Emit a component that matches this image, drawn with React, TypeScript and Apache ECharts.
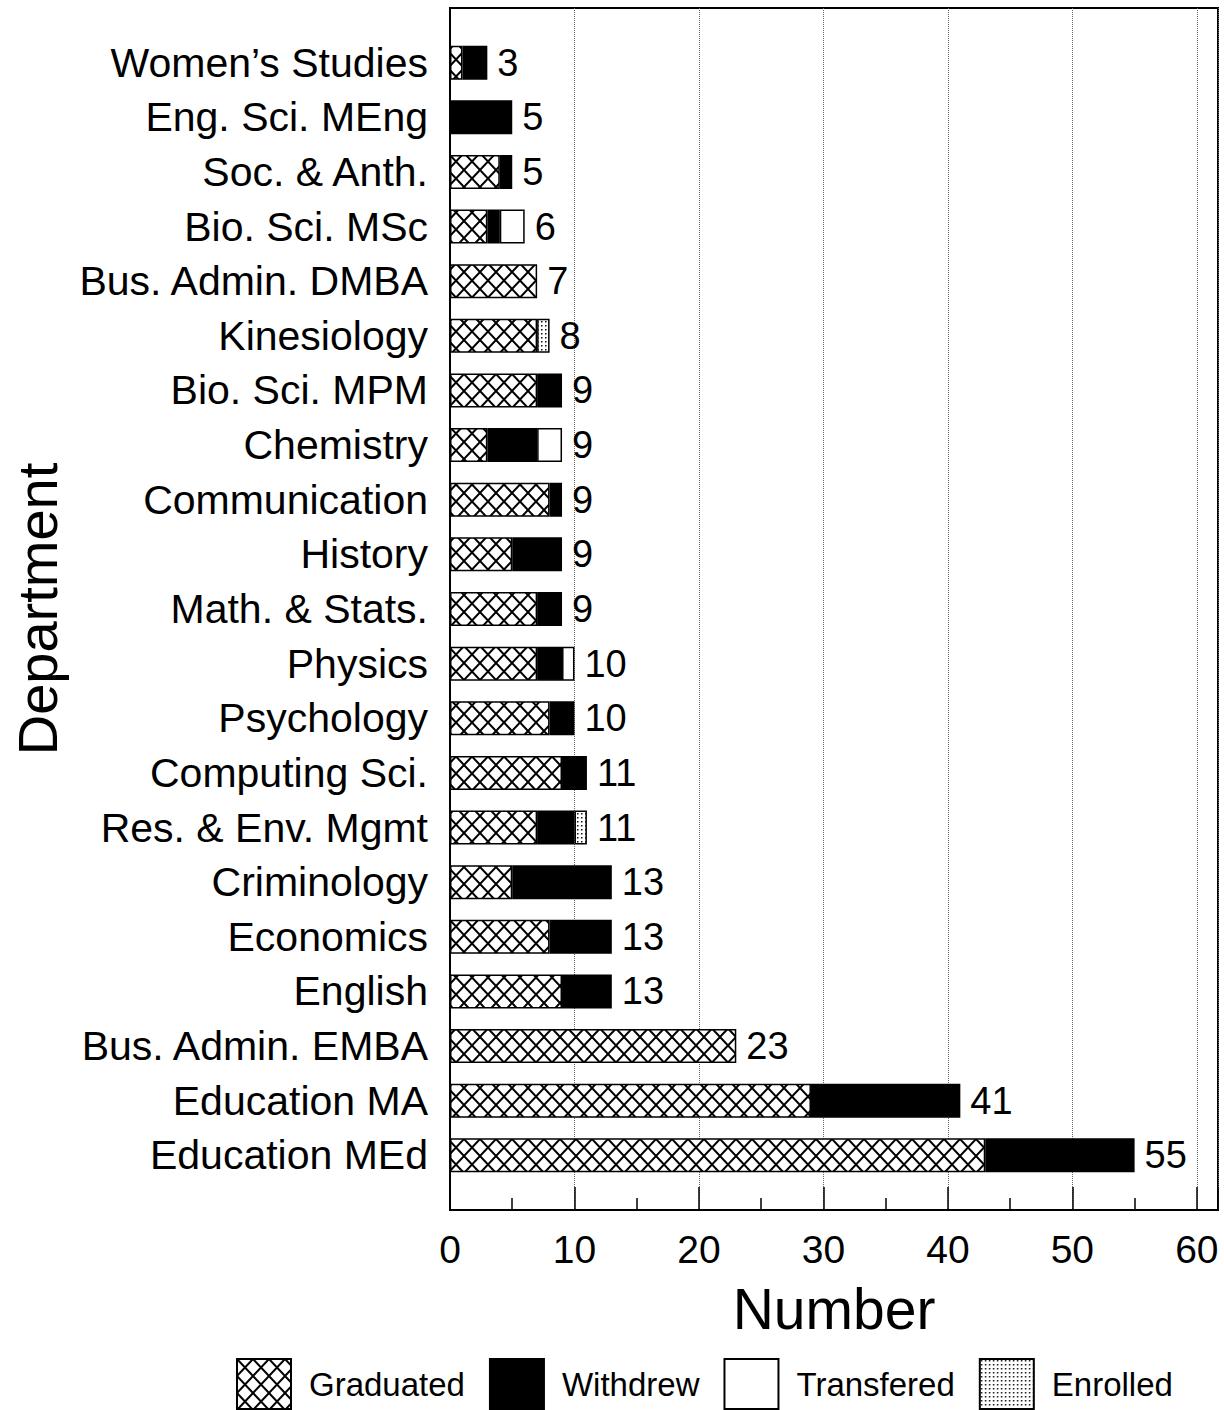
import React, { useEffect, useRef } from "react";
import * as echarts from "echarts";

const departments = [
  "Women’s Studies",
  "Eng. Sci. MEng",
  "Soc. & Anth.",
  "Bio. Sci. MSc",
  "Bus. Admin. DMBA",
  "Kinesiology",
  "Bio. Sci. MPM",
  "Chemistry",
  "Communication",
  "History",
  "Math. & Stats.",
  "Physics",
  "Psychology",
  "Computing Sci.",
  "Res. & Env. Mgmt",
  "Criminology",
  "Economics",
  "English",
  "Bus. Admin. EMBA",
  "Education MA",
  "Education MEd",
];
const graduated = [1, 0, 4, 3, 7, 7, 7, 3, 8, 5, 7, 7, 8, 9, 7, 5, 8, 9, 23, 29, 43];
const withdrew = [2, 5, 1, 1, 0, 0, 2, 4, 1, 4, 2, 2, 2, 2, 3, 8, 5, 4, 0, 12, 12];
const transfered = [0, 0, 0, 2, 0, 0, 0, 2, 0, 0, 0, 1, 0, 0, 0, 0, 0, 0, 0, 0, 0];
const enrolled = [0, 0, 0, 0, 0, 1, 0, 0, 0, 0, 0, 0, 0, 0, 1, 0, 0, 0, 0, 0, 0];
const seriesNames = ["Graduated", "Withdrew", "Transfered", "Enrolled"];

const FONT = "'Liberation Sans', Arial, Helvetica, sans-serif";

function svgUrl(svg: string) {
  return "data:image/svg+xml;charset=utf-8," + encodeURIComponent(svg);
}

const hatchPattern = {
  image: svgUrl(
    '<svg xmlns="http://www.w3.org/2000/svg" width="16" height="17" viewBox="0 0 16 17"><rect width="16" height="17" fill="#fff"/><path d="M-8 -8.5L24 25.5M24 -8.5L-8 25.5" stroke="#000" stroke-width="2"/></svg>'
  ),
  repeat: "repeat",
  imageWidth: 16,
  imageHeight: 17,
};
const dotPattern = {
  image: svgUrl(
    '<svg xmlns="http://www.w3.org/2000/svg" width="4" height="4" viewBox="0 0 4 4"><rect width="4" height="4" fill="#fff"/><rect x="1" y="1" width="1.5" height="1.5" fill="#111"/></svg>'
  ),
  repeat: "repeat",
  imageWidth: 4,
  imageHeight: 4,
};

export default function App() {
  const ref = useRef<HTMLDivElement>(null);
  useEffect(() => {
    if (!ref.current) return;
    const chart = echarts.init(ref.current, null, { renderer: "svg" });
    const pad = (arr: number[]) => [null, ...arr.map((v) => (v === 0 ? null : v)), null];
    const cats = ["", ...departments, ""];
    const totals = departments.map(
      (_, i) => graduated[i] + withdrew[i] + transfered[i] + enrolled[i]
    );
    const colors: any[] = [hatchPattern, "#000", "#fff", dotPattern];
    const values = [graduated, withdrew, transfered, enrolled];
    const barSeries = seriesNames.map((name, k) => ({
      name,
      type: "bar",
      stack: "total",
      barWidth: 34,
      data: pad(values[k]),
      itemStyle: { color: colors[k], borderColor: "#000", borderWidth: 1.5 },
    }));
    const totalSeries = {
      name: "Total",
      type: "bar",
      stack: "total",
      barWidth: 34,
      data: [null, ...totals.map(() => 0), null],
      itemStyle: { color: "transparent", borderWidth: 0 },
      label: {
        show: true,
        position: "right",
        distance: 10,
        fontFamily: FONT,
        fontSize: 38,
        color: "#000",
        formatter: (p: any) => String(totals[p.dataIndex - 1]),
      },
    };
    chart.setOption({
      animation: false,
      backgroundColor: "#fff",
      grid: {
        left: 450,
        right: 6,
        top: 8,
        bottom: 200,
        show: true,
        borderColor: "#000",
        borderWidth: 2,
        containLabel: false,
        outerBoundsMode: "none",
      },
      legend: {
        data: seriesNames,
        left: 236,
        top: 1358,
        padding: 0,
        icon: "rect",
        itemWidth: 54,
        itemHeight: 50,
        itemGap: 24,
        textStyle: { fontFamily: FONT, fontSize: 33, color: "#000", padding: [0, 0, 0, 13] },
      },
      xAxis: {
        type: "value",
        min: 0,
        max: 61.7,
        interval: 10,
        name: "Number",
        nameLocation: "middle",
        nameGap: 70,
        nameTextStyle: { fontFamily: FONT, fontSize: 57, color: "#000" },
        axisLine: { show: true, lineStyle: { color: "#000", width: 2 } },
        axisTick: { show: true, inside: true, length: 23, lineStyle: { color: "#000", width: 1.5 } },
        minorTick: { show: true, splitNumber: 2, length: 12, lineStyle: { color: "#000", width: 1.5 } },
        axisLabel: {
          fontFamily: FONT,
          fontSize: 39,
          color: "#000",
          margin: 20,
          showMaxLabel: false,
        },
        splitLine: { show: true, lineStyle: { color: "#666", type: "dotted", width: 1 } },
      },
      yAxis: {
        type: "category",
        data: cats,
        inverse: true,
        boundaryGap: false,
        name: "Department",
        nameLocation: "middle",
        nameGap: 385,
        nameTextStyle: { fontFamily: FONT, fontSize: 56, color: "#000" },
        axisLine: { show: true, lineStyle: { color: "#000", width: 2 } },
        axisTick: { show: false },
        axisLabel: { fontFamily: FONT, fontSize: 41, color: "#000", margin: 22, interval: 0 },
        splitLine: { show: false },
      },
      series: [...barSeries, totalSeries],
    });
    return () => chart.dispose();
  }, []);
  return (
    <div
      ref={ref}
      style={{ position: "absolute", left: 0, top: 0, width: 1224, height: 1410, background: "#fff" }}
    />
  );
}
